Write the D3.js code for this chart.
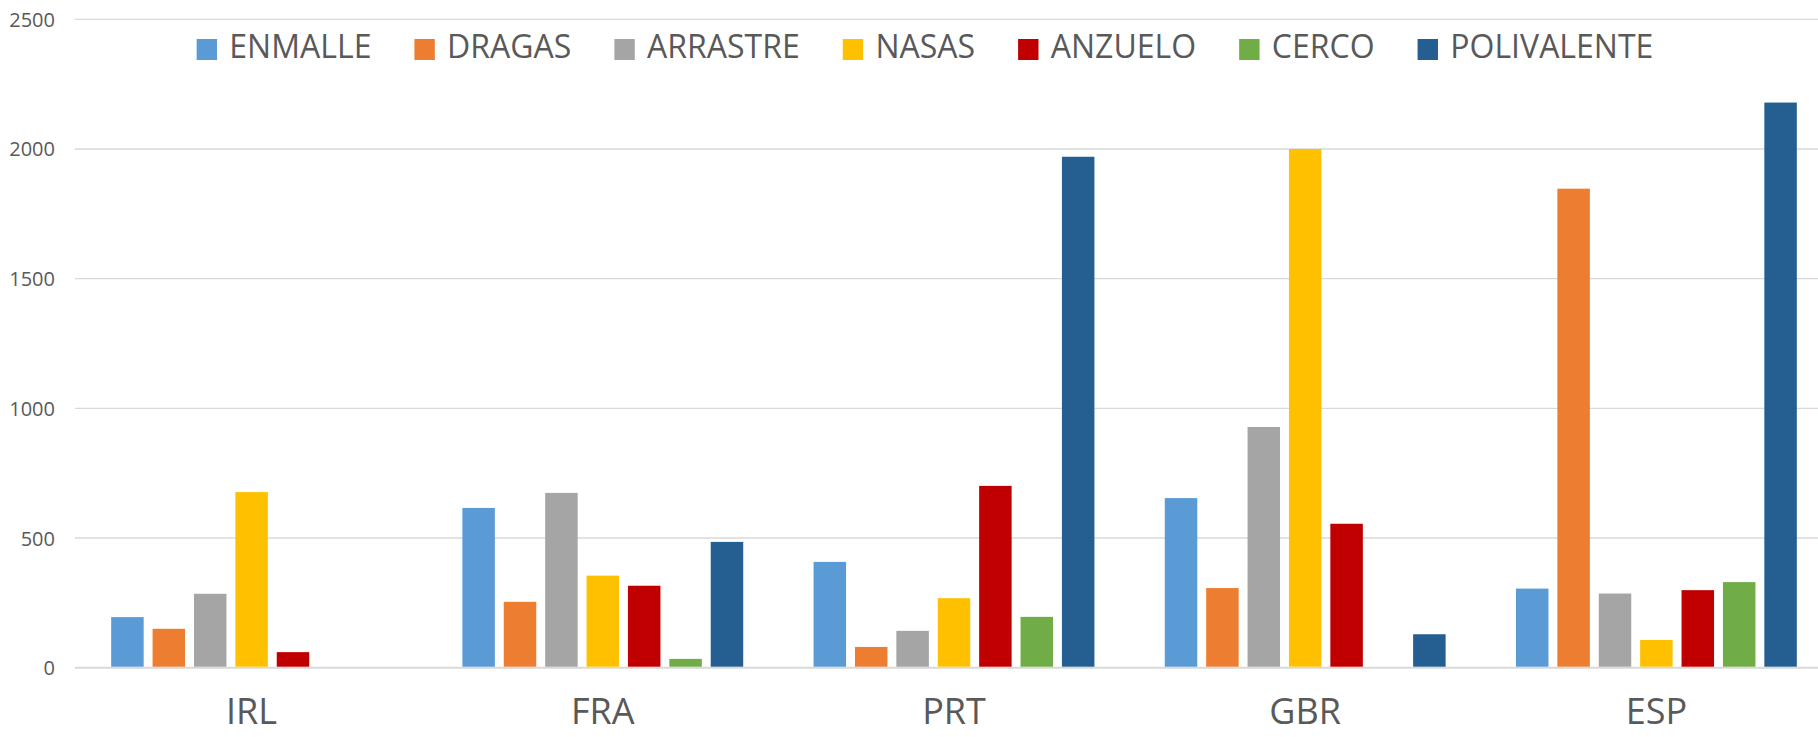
<!DOCTYPE html>
<html><head><meta charset="utf-8">
<script src="https://cdn.jsdelivr.net/npm/d3@7"></script>
<style>
html,body{margin:0;padding:0;background:#fff;}
svg{display:block;}
text{font-family:"Open Sans","Noto Sans",sans-serif;fill:#595959;}
</style></head>
<body><svg id="c" width="1818" height="737"></svg>
<script>
const categories = ["IRL","FRA","PRT","GBR","ESP"];
const seriesNames = ["ENMALLE","DRAGAS","ARRASTRE","NASAS","ANZUELO","CERCO","POLIVALENTE"];
const seriesColors = ["#5B9BD5","#ED7D31","#A5A5A5","#FFC000","#C00000","#70AD47","#255E91"];
const ENMALLE     = [195, 616, 408, 654, 305];
const DRAGAS      = [150, 254,  80, 307, 1847];
const ARRASTRE    = [285, 674, 142, 928, 286];
const NASAS       = [677, 355, 268, 2000, 107];
const ANZUELO     = [ 60, 316, 701, 555, 299];
const CERCO       = [  0,  34, 196,   0, 330];
const POLIVALENTE = [  0, 485, 1970, 129, 2179];
const yTicks = [0, 500, 1000, 1500, 2000, 2500];

const seriesValues = [ENMALLE,DRAGAS,ARRASTRE,NASAS,ANZUELO,CERCO,POLIVALENTE];
const data = categories.map((c,i)=>({cat:c, vals: seriesNames.map((s,j)=>({s, v: seriesValues[j][i], color: seriesColors[j]}))}));

const svg = d3.select("#c");
const plotL = 76, plotR = 1832, plotT = 19.3, plotB = 667.7;

const x0 = d3.scaleBand().domain(categories).range([plotL, plotR]).paddingInner(0).paddingOuter(0);
const groupW = x0.bandwidth()*0.825;
const x1 = d3.scaleBand().domain(seriesNames).range([-groupW/2, groupW/2]).paddingInner(0.215).paddingOuter(0.1075);
const y = d3.scaleLinear().domain([0, 2500]).range([plotB, plotT]);

// y axis labels
const yAxis = d3.axisLeft(y).tickValues(yTicks).tickSize(0).tickPadding(0).tickFormat(d3.format("d"));
const gy = svg.append("g").attr("transform", `translate(${plotL-21},0)`).call(yAxis);
gy.select(".domain").remove();
gy.selectAll("text").style("font-size","20px").attr("fill","#595959").attr("dy","0.35em");

// gridlines
svg.append("g").selectAll("line").data(yTicks).join("line")
  .attr("x1", plotL-1).attr("x2", 1818)
  .attr("y1", d=>y(d)).attr("y2", d=>y(d))
  .attr("stroke", "#d9d9d9").attr("stroke-width", d=> d===0 ? 2 : 1.3);

// bars
const groups = svg.append("g").selectAll("g").data(data).join("g")
  .attr("transform", d=>`translate(${x0(d.cat)+x0.bandwidth()/2},0)`);
groups.selectAll("rect").data(d=>d.vals.filter(v=>v.v>0)).join("rect")
  .attr("x", d=>x1(d.s)).attr("width", x1.bandwidth())
  .attr("y", d=>y(d.v)).attr("height", d=>plotB - y(d.v) - 1)
  .attr("fill", d=>d.color);

// x axis labels
const xAxis = d3.axisBottom(x0).tickSize(0).tickPadding(0);
const gx = svg.append("g").attr("transform", `translate(0,${plotB})`).call(xAxis);
gx.select(".domain").remove();
gx.selectAll("text").style("font-size","36px").attr("fill","#595959").attr("y", 56).attr("dy", 0);

// legend
const leg = svg.append("g");
const items = leg.selectAll("g").data(seriesNames).join("g");
items.append("rect").attr("width", 20.4).attr("height", 21).attr("y", 39).attr("fill", (d,i)=>seriesColors[i]);
items.append("text").attr("x", 32.7).attr("y", 58.3).style("font-size","32px").text(d=>d);
let xpos = 0;
const positions = [];
items.each(function(d){
  const w = d3.select(this).select("text").node().getComputedTextLength();
  positions.push(xpos);
  xpos += 32.7 + w + 43;
});
const total = xpos - 43;
const start = 925 - total/2;
items.attr("transform", (d,i)=>`translate(${start+positions[i]},0)`);
</script></body></html>
